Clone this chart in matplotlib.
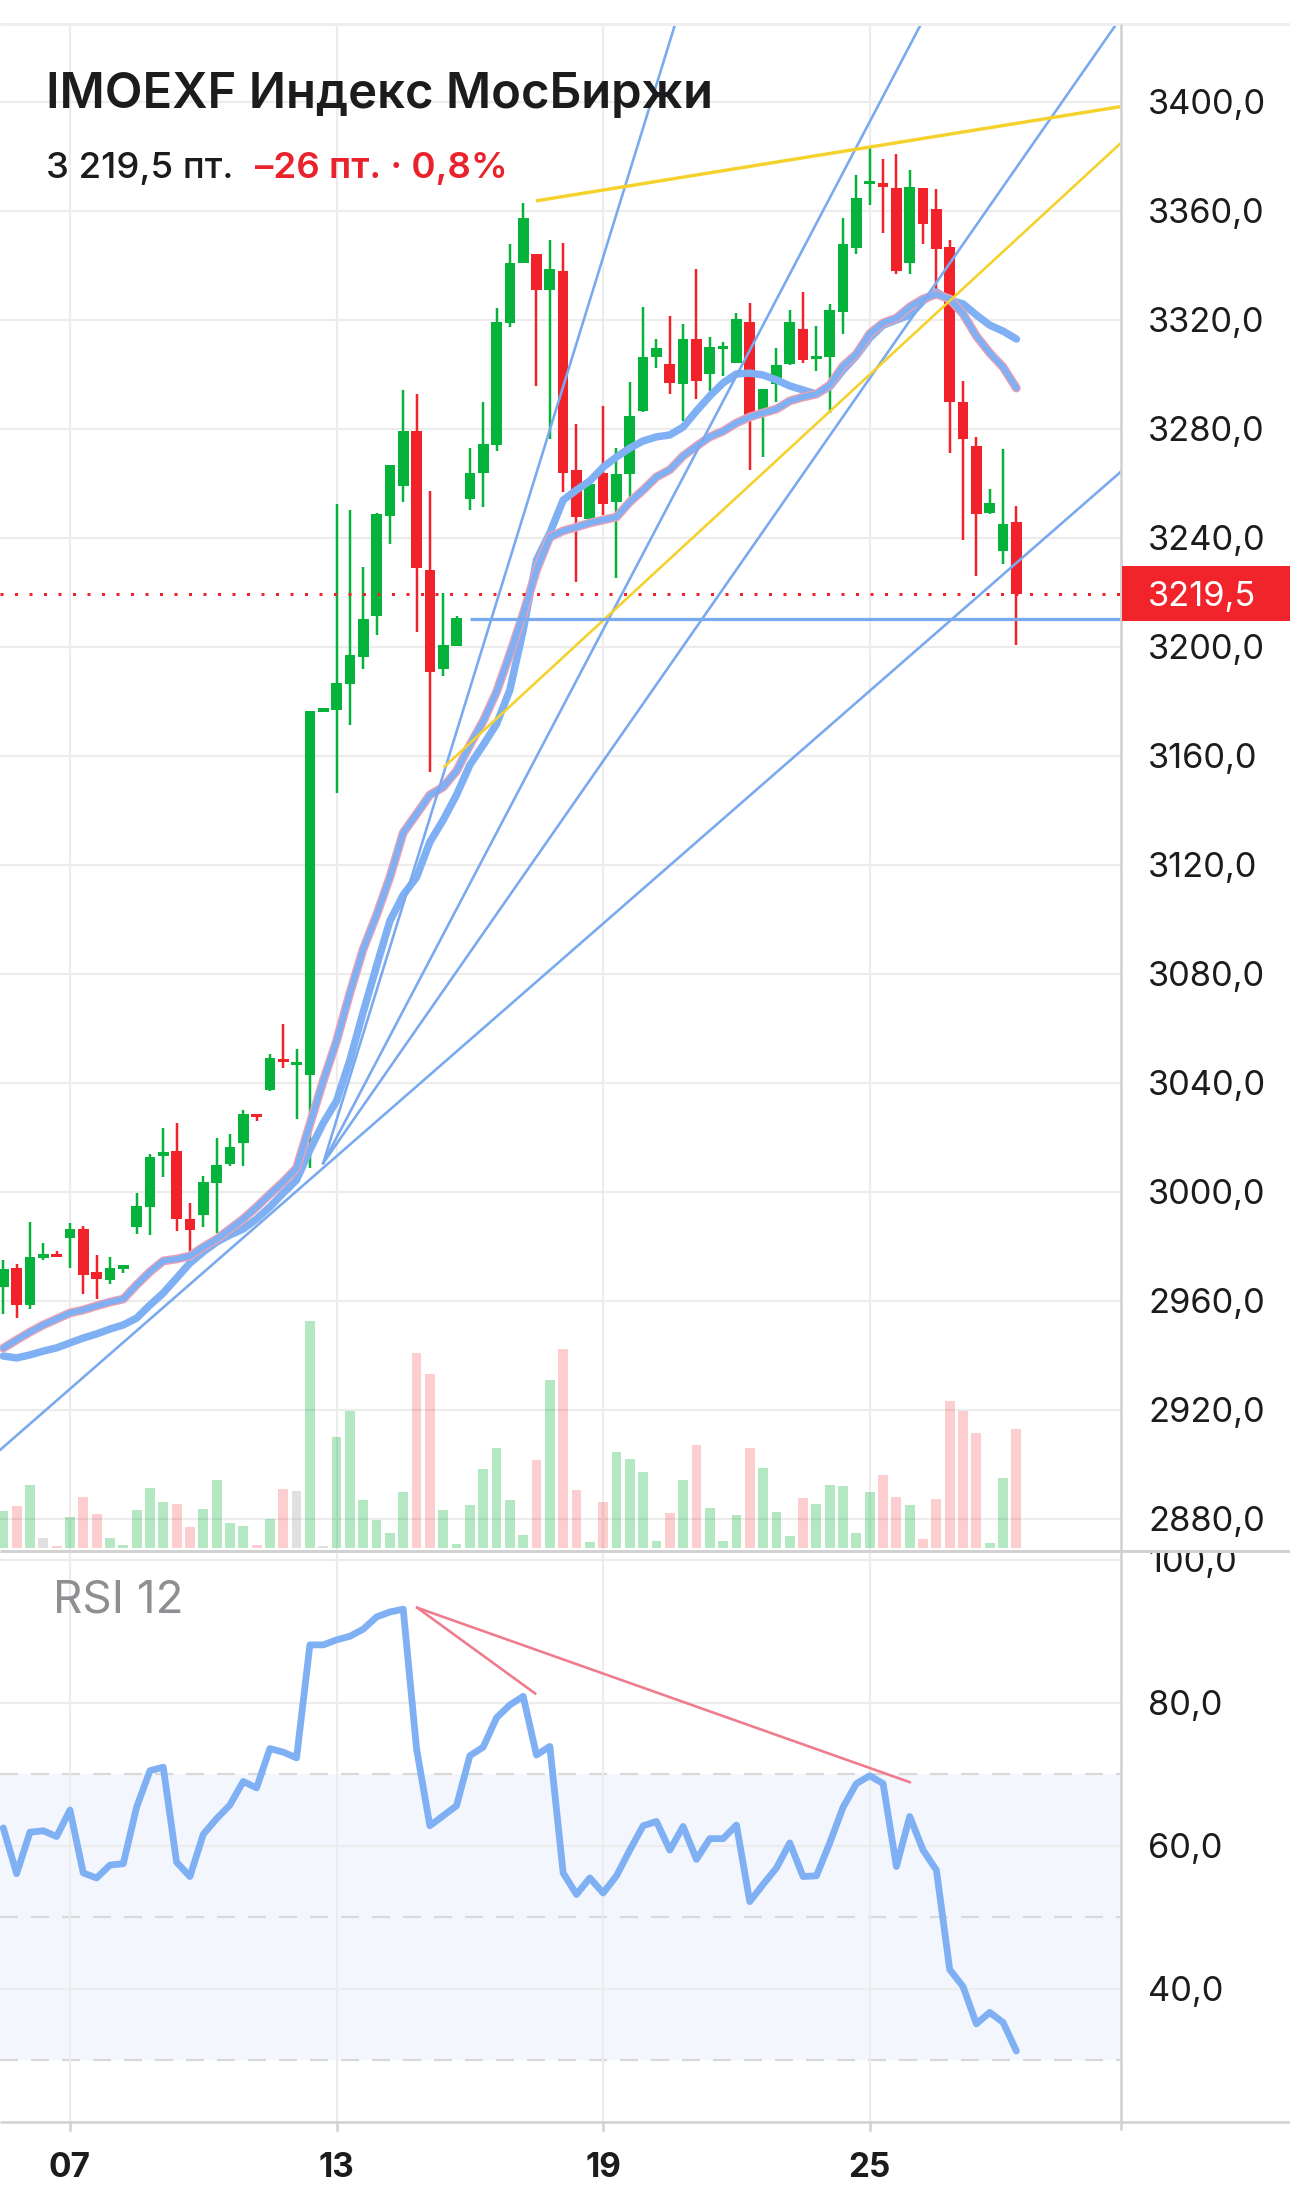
import matplotlib
matplotlib.use("Agg")
import matplotlib.pyplot as plt
import numpy as np
from matplotlib.patches import Rectangle
from matplotlib.lines import Line2D
from matplotlib import transforms
from matplotlib.transforms import Bbox

plt.rcParams['font.family'] = ['Inter', 'DejaVu Sans']
plt.rcParams['lines.scale_dashes'] = False

# ---------------- data ----------------
opens = [2965.1, 2971.9, 2958.4, 2975.8, 2976.8, 2983.1, 2986.2, 2970.5, 2967.6, 2971.7,
         2987.0, 2994.4, 3013.1, 3014.8, 2989.8, 2991.4, 3003.3, 3010.0, 3017.9, 3028.6,
         3037.4, 3048.6, 3046.4, 3043.0, 3176.2, 3176.6, 3186.4, 3196.2, 3211.4, 3248.1,
         3259.1, 3279.3, 3228.1, 3192.0, 3200.4, 3254.2, 3263.6, 3274.1, 3318.7, 3340.8,
         3344.0, 3331.0, 3338.0, 3264.8, 3246.9, 3263.6, 3253.0, 3263.4, 3286.6, 3306.4,
         3303.7, 3296.4, 3312.9, 3300.1, 3309.2, 3304.0, 3319.3, 3285.6, 3296.4, 3303.7,
         3316.7, 3305.4, 3306.2, 3323.0, 3346.4, 3369.7, 3370.1, 3368.2, 3340.9, 3368.5,
         3360.5, 3346.6, 3289.8, 3273.8, 3249.0, 3235.1, 3245.8]
highs = [2974.9, 2973.6, 2989.0, 2981.3, 2978.1, 2988.4, 2987.4, 2976.6, 2976.1, 2973.2,
         2999.6, 3013.7, 3023.2, 3025.3, 2996.0, 3005.7, 3019.8, 3021.3, 3030.0, 3028.6,
         3050.7, 3061.5, 3052.4, 3176.5, 3177.6, 3252.3, 3250.0, 3229.2, 3248.9, 3266.8,
         3294.2, 3292.8, 3257.3, 3219.6, 3211.2, 3273.0, 3289.8, 3324.2, 3347.8, 3362.9,
         3344.0, 3349.2, 3348.3, 3281.7, 3259.7, 3288.2, 3273.1, 3297.2, 3324.8, 3312.9,
         3321.5, 3318.4, 3338.6, 3313.5, 3312.0, 3322.3, 3326.1, 3294.6, 3309.6, 3323.4,
         3330.0, 3317.7, 3325.6, 3357.5, 3373.2, 3383.6, 3378.8, 3380.8, 3375.0, 3368.5,
         3367.8, 3349.1, 3297.4, 3277.0, 3258.0, 3272.6, 3251.5]
lows = [2955.0, 2953.8, 2957.1, 2974.8, 2975.9, 2971.9, 2962.3, 2960.7, 2966.2, 2970.3,
        2984.6, 2984.1, 3005.4, 2985.6, 2977.4, 2987.0, 2985.0, 3009.4, 3009.5, 3026.0,
        3037.0, 3045.4, 3026.7, 3008.8, 3175.9, 3146.2, 3171.4, 3192.0, 3204.4, 3237.6,
        3253.1, 3205.3, 3154.1, 3189.2, 3200.4, 3250.0, 3251.4, 3272.0, 3317.3, 3340.8,
        3295.6, 3276.2, 3256.6, 3223.6, 3246.9, 3248.3, 3225.1, 3254.2, 3286.0, 3302.3,
        3292.7, 3282.9, 3290.9, 3294.0, 3299.4, 3304.0, 3264.8, 3269.5, 3289.7, 3303.2,
        3304.1, 3301.0, 3285.6, 3314.8, 3344.1, 3362.1, 3351.8, 3336.9, 3336.9, 3347.9,
        3330.3, 3270.9, 3239.1, 3225.9, 3248.6, 3230.5, 3200.6]
closes = [2971.7, 2958.4, 2976.1, 2977.0, 2975.9, 2986.2, 2969.4, 2967.8, 2972.1, 2973.2,
          2994.7, 3012.7, 3014.7, 2989.8, 2985.9, 3003.5, 3009.7, 3016.5, 3028.6, 3027.4,
          3048.9, 3047.5, 3047.2, 3176.5, 3177.2, 3186.8, 3196.9, 3210.2, 3248.6, 3266.8,
          3279.3, 3228.9, 3190.6, 3200.7, 3210.5, 3263.9, 3274.4, 3319.3, 3340.8, 3357.3,
          3331.0, 3338.7, 3263.6, 3247.5, 3259.7, 3252.4, 3263.4, 3284.8, 3306.4, 3309.5,
          3296.8, 3312.9, 3297.6, 3309.8, 3310.1, 3320.2, 3285.1, 3294.6, 3303.5, 3319.0,
          3305.1, 3306.2, 3323.7, 3347.6, 3364.7, 3371.0, 3368.7, 3337.8, 3368.8, 3355.0,
          3346.0, 3289.8, 3276.3, 3248.6, 3252.7, 3245.2, 3219.5]
volumes = [36.7, 42.3, 63.3, 10.3, 2.3, 31.3, 51.3, 34.3, 10.3, 3.3,
           38.3, 60.3, 46.3, 44.3, 21.3, 39.3, 68.3, 25.3, 22.3, 3.3,
           29.3, 59.3, 57.3, 227.3, 2.3, 111.3, 137.3, 48.3, 28.3, 15.3,
           56.3, 195.3, 174.3, 38.3, 4.3, 43.3, 79.3, 100.3, 48.3, 13.3,
           88.3, 168.3, 199.3, 58.3, 6.3, 46.3, 96.3, 89.3, 76.3, 7.3,
           35.3, 68.3, 103.3, 40.3, 7.3, 33.3, 100.3, 80.3, 36.3, 12.3,
           50.3, 44.3, 63.3, 62.3, 15.3, 56.3, 73.3, 51.3, 43.3, 9.3,
           49.3, 147.3, 137.3, 115.3, 5.3, 70.3, 119.3]
volume_dir = ("grgnrgrrgg" "gggrrggggr" "grngnggggg" "grrggggggg" "rgrrgrgggg"
              "rgrgggrggg" "rgggggrrgr" "rrrrggr")
ma_fast = [2942.6, 2945.6, 2948.5, 2951.1, 2953.3, 2955.5, 2956.6, 2958.1, 2959.5, 2960.6,
           2965.8, 2970.6, 2974.6, 2975.3, 2976.4, 2979.7, 2982.6, 2986.3, 2990.0, 2994.4,
           2999.1, 3003.6, 3008.7, 3024.8, 3040.6, 3055.3, 3072.9, 3089.0, 3101.5, 3115.4,
           3131.7, 3138.6, 3145.6, 3148.5, 3154.4, 3163.9, 3172.7, 3183.4, 3197.3, 3212.0,
           3228.1, 3240.2, 3242.5, 3243.9, 3245.4, 3246.5, 3247.6, 3253.1, 3257.5, 3262.3,
           3264.9, 3270.0, 3273.6, 3277.0, 3279.1, 3282.1, 3284.3, 3285.8, 3287.2, 3290.2,
           3291.6, 3292.7, 3296.0, 3303.0, 3307.4, 3314.9, 3318.8, 3320.6, 3324.7, 3327.6,
           3329.4, 3327.6, 3322.1, 3314.0, 3307.8, 3302.6, 3294.9]
ma_slow = [2939.7, 2939.0, 2940.1, 2941.5, 2942.7, 2944.5, 2946.3, 2947.8, 2949.6, 2951.1,
           2953.6, 2958.4, 2962.8, 2968.3, 2973.8, 2977.9, 2981.5, 2984.1, 2986.3, 2990.0,
           2994.4, 2999.5, 3004.3, 3015.3, 3025.2, 3033.3, 3048.3, 3065.9, 3082.8, 3099.3,
           3108.9, 3115.4, 3128.3, 3136.4, 3145.6, 3156.6, 3163.9, 3171.6, 3184.1, 3206.1,
           3231.8, 3241.7, 3253.8, 3257.5, 3260.8, 3265.9, 3269.6, 3272.9, 3275.5, 3277.0,
           3277.7, 3280.6, 3286.5, 3292.0, 3296.8, 3300.1, 3300.4, 3299.7, 3297.9, 3295.7,
           3294.2, 3292.7, 3295.3, 3301.5, 3306.7, 3313.3, 3318.0, 3319.9, 3321.7, 3326.9,
           3330.2, 3327.2, 3325.8, 3321.7, 3318.0, 3315.8, 3312.9]
rsi = [62.5, 56.1, 61.9, 62.1, 61.3, 65.0, 56.2, 55.5, 57.3, 57.5,
       65.4, 70.5, 71.0, 57.7, 55.7, 61.6, 63.8, 65.7, 69.0, 68.1,
       73.6, 73.1, 72.3, 88.1, 88.1, 88.8, 89.3, 90.3, 92.0, 92.7,
       93.1, 73.6, 62.8, 64.2, 65.6, 72.6, 73.8, 77.9, 79.7, 80.9,
       72.7, 73.9, 56.2, 53.2, 55.5, 53.4, 55.8, 59.4, 62.8, 63.4,
       59.4, 62.7, 58.1, 61.0, 61.0, 62.9, 52.2, 54.6, 56.9, 60.4,
       55.7, 55.8, 60.4, 65.4, 68.7, 69.8, 68.7, 57.1, 64.1, 59.4,
       56.6, 42.7, 40.3, 35.1, 36.7, 35.3, 31.3]

price_ticks = [2880, 2920, 2960, 3000, 3040, 3080, 3120, 3160, 3200, 3240, 3280, 3320, 3360, 3400]
rsi_ticks = [40, 60, 80, 100]
rsi_levels = [30, 50, 70]
date_pos = [5, 25, 45, 65]
date_labels = ["07", "13", "19", "25"]
last_price = 3219.5
level_price = 3210.0
level_start = 35

fan_origin = (24.0, 3010.5)
fan_targets = [(50.36, 3427.8), (68.77, 3427.8), (83.4, 3427.8)]
support_line = [(-0.25, 2905.2), (83.81, 3264.1)]
yellow_upper = [(40.08, 3363.7), (83.81, 3398.2)]
yellow_lower = [(33.1, 3156.0), (83.81, 3384.7)]
rsi_div_long = [(31.05, 93.3), (68.0, 68.9)]
rsi_div_short = [(31.05, 93.3), (39.9, 81.3)]

title = "IMOEXF Индекс МосБиржи"
sub_price = "3 219,5 пт."
sub_change = "–26 пт. · 0,8%"

# ---------------- layout (pixels) ----------------
W, H, DPI = 1290, 2201, 100
X_AX = 1120.5
Y_TOP, Y_SEP, Y_BOT = 24, 1551, 2122
STEP, X0 = 13.33, 3.3
PX = 72.0 / DPI  # points per pixel

GREEN = '#05b33b'
RED = '#f2222b'
BLUE = '#7fb0f4'
THIN_BLUE = '#79a9ef'
PINK = '#eba0b4'
YELLOW = '#f4d22b'
GRID = '#ececec'
AXIS = '#d2d2d2'
TXT = '#1c1c1e'

fig = plt.figure(figsize=(W / DPI, H / DPI), dpi=DPI)
fig.patch.set_facecolor('white')


def rect(x0, y0, x1, y1):
    return [x0 / W, 1 - y1 / H, (x1 - x0) / W, (y1 - y0) / H]


xlim = (-X0 / STEP, (X_AX - X0) / STEP)
ax_vol = fig.add_axes(rect(0, Y_TOP, X_AX, Y_SEP))
ax = fig.add_axes(rect(0, Y_TOP, X_AX, Y_SEP))
ax_rsi = fig.add_axes(rect(0, Y_SEP, X_AX, Y_BOT))
for a in (ax_vol, ax, ax_rsi):
    a.set_xlim(*xlim)
    a.axis('off')

ppu = 2.725  # pixels per price unit
p_top = 3400 + (101.7 - Y_TOP) / ppu
p_bot = 3400 - (Y_SEP - 101.7) / ppu
ax.set_ylim(p_bot, p_top)
ax_vol.set_ylim(p_bot, p_top)

idx = np.arange(len(closes))
o = np.array(opens); c = np.array(closes); h = np.array(highs); l = np.array(lows)

# grid (price)
for p in price_ticks:
    ax_vol.axhline(p, color=GRID, lw=2.2 * PX, zorder=0)
for d in date_pos:
    ax_vol.axvline(d, color=GRID, lw=2.2 * PX, zorder=0)

# volume overlay on its own scale (pixel-height units)
axv = ax_vol.twinx()
axv.axis('off')
axv.set_xlim(*xlim)
axv.set_ylim(-3, (Y_SEP - Y_TOP) - 3)
vcol = {'g': (GREEN, 0.30), 'r': (RED, 0.22), 'n': ('#9a9a9a', 0.30)}
for i, (v, d) in enumerate(zip(volumes, volume_dir)):
    col, al = vcol[d]
    axv.bar(i, v, width=0.74, bottom=0, color=col, alpha=al, linewidth=0, zorder=1)

# candles
up = c >= o
ccol = np.where(up, GREEN, RED)
ax.vlines(idx, l, h, colors=ccol, lw=2.5 * PX, zorder=2)
body_b = np.minimum(o, c)
body_h = np.maximum(np.abs(c - o), 1.2)
ax.bar(idx, body_h, bottom=body_b, width=0.8, color=ccol, linewidth=0, zorder=2)

# moving averages
ax.plot(idx, ma_slow, color=BLUE, lw=7.5 * PX, solid_capstyle='round', solid_joinstyle='round', zorder=3)
ax.plot(idx, ma_fast, color=PINK, lw=8.8 * PX, solid_capstyle='round', solid_joinstyle='round', zorder=3)
ax.plot(idx, ma_fast, color=BLUE, lw=6.0 * PX, solid_capstyle='round', solid_joinstyle='round', zorder=3)

# trend lines
ox, oy = fan_origin
for tx, ty in fan_targets:
    ax.plot([ox, ox + 1.3 * (tx - ox)], [oy, oy + 1.3 * (ty - oy)], color=THIN_BLUE, lw=2.6 * PX, zorder=4)
ax.plot(*zip(*support_line), color=THIN_BLUE, lw=2.6 * PX, zorder=4)
ax.plot(*zip(*yellow_upper), color=YELLOW, lw=3.4 * PX, zorder=4)
ax.plot(*zip(*yellow_lower), color=YELLOW, lw=2.6 * PX, zorder=4)
ax.hlines(level_price, level_start, xlim[1], color=THIN_BLUE, lw=3.2 * PX, zorder=4)
ax.axhline(last_price, color=RED, lw=3.0 * PX, ls=(0, (3.0 * PX, 11.5 * PX)), zorder=4)

# RSI panel
r_px = 7.15
r_top = 80 + (1702.8 - Y_SEP) / r_px
r_bot = 80 - (Y_BOT - 1702.8) / r_px
ax_rsi.set_ylim(r_bot, r_top)
ax_rsi.axhspan(30, 70, color='#f3f7fd', lw=0, zorder=0)
for r in rsi_ticks:
    ax_rsi.axhline(r, color=GRID, lw=2.2 * PX, zorder=1)
for r in rsi_levels:
    ax_rsi.axhline(r, color='#d9d9d9', lw=2.2 * PX, ls=(0, (18 * PX, 13 * PX)), zorder=1)
for d in date_pos:
    ax_rsi.axvline(d, color=GRID, lw=2.2 * PX, zorder=1)
ax_rsi.plot(idx, rsi, color=BLUE, lw=6.8 * PX, solid_joinstyle='round', solid_capstyle='round', zorder=3)
ax_rsi.plot(*zip(*rsi_div_long), color='#ef7b8d', lw=2.6 * PX, zorder=4)
ax_rsi.plot(*zip(*rsi_div_short), color='#ef7b8d', lw=2.6 * PX, zorder=4)

# frame lines (figure pixels)
def fline(x0, y0, x1, y1, color, lw):
    fig.add_artist(Line2D([x0 / W, x1 / W], [1 - y0 / H, 1 - y1 / H], transform=fig.transFigure,
                          color=color, lw=lw * PX, solid_capstyle='butt'))

fline(0, Y_TOP, W, Y_TOP, '#eeeeee', 3)
fline(0, Y_SEP, W, Y_SEP, AXIS, 3)
fline(0, Y_BOT, W, Y_BOT, AXIS, 2.6)
fline(X_AX, Y_TOP, X_AX, Y_BOT + 8, AXIS, 2.6)

# date ticks and labels
tick_tr = transforms.blended_transform_factory(ax_rsi.transData, fig.transFigure)
for d, lab in zip(date_pos, date_labels):
    fig.add_artist(Line2D([d, d], [1 - Y_BOT / H, 1 - (Y_BOT + 8) / H], transform=tick_tr,
                          color=AXIS, lw=2.6 * PX))
    fig.text(d, 1 - 2177 / H, lab, transform=tick_tr, ha='center', va='baseline',
             fontsize=24, fontweight='bold', color=TXT)

# right-side price labels
LABEL_FS = 24.8
cap_off = transforms.ScaledTranslation(0, -12.5 / DPI, fig.dpi_scale_trans)
lab_x = 1148 / W
price_tr = transforms.blended_transform_factory(fig.transFigure, ax.transData) + cap_off
for p in price_ticks:
    fig.text(lab_x, p, f"{p:.1f}".replace('.', ','), transform=price_tr, ha='left', va='baseline',
             fontsize=LABEL_FS, color=TXT)

rsi_tr = transforms.blended_transform_factory(fig.transFigure, ax_rsi.transData) + cap_off
clip = Bbox.from_extents(X_AX, 0, W, H - Y_SEP - 1.5)
for r in rsi_ticks:
    t = fig.text(lab_x, r, f"{r:.1f}".replace('.', ','), transform=rsi_tr, ha='left', va='baseline',
                 fontsize=LABEL_FS, color=TXT)
    t.set_clip_box(clip)
    t.set_clip_on(True)

# last price box
box_tr = transforms.blended_transform_factory(fig.transFigure, ax.transData)
box_h = 55 / ppu
fig.add_artist(Rectangle((X_AX / W + 0.001, last_price - box_h / 2), (W - X_AX) / W, box_h,
                         transform=box_tr, facecolor='#f2242b', edgecolor='none', zorder=5))
fig.text(lab_x, last_price, f"{last_price:.1f}".replace('.', ','), transform=price_tr,
         ha='left', va='baseline', fontsize=LABEL_FS, color='white', zorder=6)

# titles
fig.text(46 / W, 1 - 108.3 / H, title, fontsize=35.3, fontweight='semibold', color=TXT, va='baseline')
fig.text(46 / W, 1 - 178.3 / H, sub_price, fontsize=26.4, fontweight='medium', color=TXT, va='baseline')
fig.text(255 / W, 1 - 178.3 / H, sub_change, fontsize=26.4, fontweight='semibold', color='#e9222b', va='baseline')
fig.text(52.6 / W, 1 - 1612.3 / H, "RSI 12", fontsize=33, color='#8e8e93', va='baseline')

fig.savefig('out.png', dpi=DPI, facecolor='white')
